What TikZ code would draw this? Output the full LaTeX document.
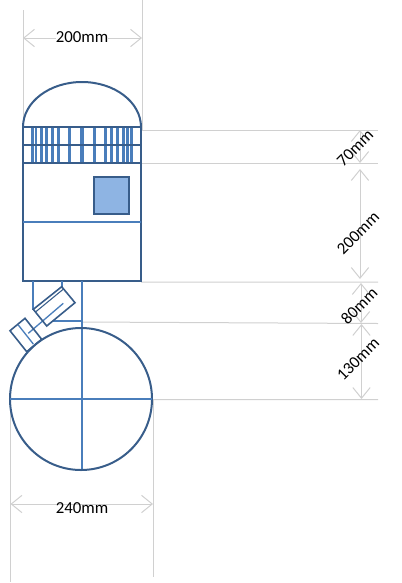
\documentclass[tikz,border=0pt]{standalone}
\usepackage{fontspec}
\setmainfont{Carlito}
\usetikzlibrary{arrows.meta}
\definecolor{darkblue}{HTML}{385D8A}
\definecolor{midblue}{HTML}{4A7EBB}
\definecolor{lightblue}{HTML}{8EB4E3}
\definecolor{dimgray}{HTML}{D0D0D0}
\tikzset{
  outline/.style={darkblue,line width=1.5pt},
  inner/.style={midblue,line width=1.5pt},
  guide/.style={dimgray,line width=0.75pt},
  dimline/.style={dimgray,line width=0.75pt,{Straight Barb[length=8pt,width=13pt]}-{Straight Barb[length=8pt,width=13pt]}},
  dimtext/.style={font=\fontsize{12.6}{14}\selectfont,inner sep=0pt}
}

\begin{document}
\begin{tikzpicture}[x=0.75pt,y=-0.75pt]
  \useasboundingbox (0,0) rectangle (401,583);
  % guide lines
  \draw[guide] (23,10) -- (23,130) (142,0) -- (142,130);
  \draw[guide] (10.5,400) -- (10.5,582) (153,400) -- (153,577);
  \draw[guide] (142,130) -- (378,130) (142,163) -- (378,163);
  \draw[guide] (141,282) -- (378,282) (82,322) -- (378,323.5) (152,399.5) -- (378,399.5);
  % dimensions
  \draw[dimline] (23,38) -- (142,38);
  \draw[dimline] (10.5,504) -- (153,504);
  \draw[dimline] (360,130) -- (360,163);
  \draw[dimline] (360,169) -- (360,279);
  \draw[dimline] (361,283) -- (361,323);
  \draw[dimline] (361.5,324) -- (361.5,399);
  \node[dimtext,fill=white] (width top) at (82,37) {200mm};
  \node[dimtext] (width bottom) at (82,508.5) {240mm};
  \node[dimtext,rotate=45] (h dome) at (355,148) {70mm};
  \node[dimtext,rotate=45] (h body) at (358,233) {200mm};
  \node[dimtext,rotate=45] (h neck) at (359,306) {80mm};
  \node[dimtext,rotate=45] (h motor) at (358,359) {130mm};
  % window bars
  \foreach \xb in {32.7,36,41.7,46.7,52.7,58.3,69.3,94.3,105.3,111.7,117.3,123.3,127.3,131.7}
    \draw[inner,line width=1.9pt] (\xb,127) -- (\xb,163);
  \draw[inner,line width=2.8pt] (81.7,127) -- (81.7,163);
  % body
  \draw[outline] (23,127) arc[start angle=180,end angle=360,x radius=59,y radius=45];
  \draw[outline] (23,127) rectangle (141,281);
  \draw[outline] (23,145) -- (141,145) (23,163) -- (141,163);
  \draw[inner] (23,222) -- (141,222);
  \draw[outline,fill=lightblue] (94,177) rectangle (129,214);
  % neck
  \draw[inner] (33,281) -- (33,309.5) (62,281) -- (62,287) (81.7,281) -- (81.7,470);
  \draw[inner] (53,321) -- (81.7,321);
  % angled boxes
  \draw[inner,line width=1pt] (63.3,303.3) -- (28.3,333.3);
  \draw[inner,line width=1pt] (18.3,325) -- (33.3,344);
  \draw[outline,line width=1.2pt] (33.3,309.3) -- (61.7,286.7) -- (75,302.7) -- (46.7,326) -- cycle;
  \draw[outline,line width=0.8pt] (35.5,312) -- (63.5,289);
  \draw[outline,line width=1.2pt] (10,330.7) -- (25,318.3) -- (41.7,339.3) -- (26.7,351.7) -- cycle;
  % motor
  \draw[outline] (81,399) circle (71);
  \draw[inner] (10,399) -- (152,399);
\end{tikzpicture}
\end{document}
